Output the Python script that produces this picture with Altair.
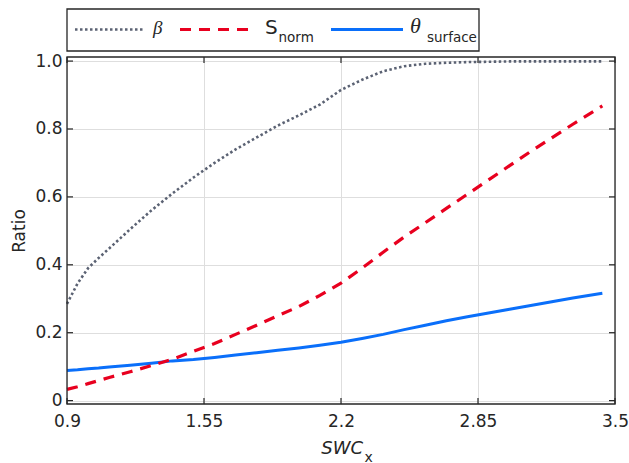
import altair as alt
import pandas as pd

# SWC_x sample positions and the three ratio curves
swc = [0.9, 0.95, 1.0, 1.05, 1.1, 1.2, 1.3, 1.4, 1.5, 1.6, 1.7, 1.8, 1.9, 2.0,
       2.1, 2.2, 2.3, 2.4, 2.5, 2.6, 2.7, 2.8, 2.9, 3.0, 3.1, 3.2, 3.3, 3.44]
beta = [0.285, 0.345, 0.39, 0.42, 0.448, 0.505, 0.56, 0.61, 0.657, 0.70, 0.74,
        0.775, 0.81, 0.84, 0.872, 0.915, 0.945, 0.97, 0.985, 0.992, 0.995,
        0.997, 0.998, 0.999, 0.999, 0.999, 0.999, 0.999]
s_norm = [0.033, 0.041, 0.05, 0.059, 0.068, 0.085, 0.103, 0.122, 0.145, 0.168,
          0.195, 0.222, 0.25, 0.277, 0.31, 0.346, 0.39, 0.437, 0.482, 0.524,
          0.566, 0.608, 0.65, 0.692, 0.734, 0.774, 0.814, 0.868]
theta_surface = [0.089, 0.091, 0.094, 0.096, 0.099, 0.104, 0.11, 0.117, 0.121,
                 0.127, 0.134, 0.141, 0.148, 0.155, 0.163, 0.172, 0.183, 0.195,
                 0.209, 0.222, 0.235, 0.247, 0.258, 0.269, 0.28, 0.291, 0.302,
                 0.316]

x_ticks = [0.9, 1.55, 2.2, 2.85, 3.5]
y_ticks = [0, 0.2, 0.4, 0.6, 0.8, 1.0]

W, H = 548, 347
FONT = "DejaVu Sans"
INK = "#262626"
GRAY, RED, BLUE = "#5b6273", "#e8001f", "#0a6ffa"

xs = alt.Scale(domain=[0.9, 3.5], nice=False, zero=False)
ys = alt.Scale(domain=[-0.01, 1.012], nice=False, zero=False)

df_beta = pd.DataFrame({"swc": swc, "ratio": beta})
df_s = pd.DataFrame({"swc": swc, "ratio": s_norm})
df_t = pd.DataFrame({"swc": swc, "ratio": theta_surface})
one = pd.DataFrame({"k": [0]})

x_axis = alt.Axis(values=x_ticks, grid=True, gridColor="#dedede", ticks=False,
                  domain=False, labelFont=FONT, labelFontSize=17,
                  labelColor=INK, labelPadding=9, labelFlush=False,
                  labelOverlap=False, labelExpr="'' + datum.value", title=None)
y_axis = alt.Axis(values=y_ticks, grid=True, gridColor="#dedede", ticks=False,
                  domain=False, labelFont=FONT, labelFontSize=17,
                  labelColor=INK, labelPadding=5, labelOverlap=False,
                  labelExpr="datum.value == 0 ? '0' : format(datum.value, '.1f')",
                  title="Ratio", titleFont=FONT, titleFontSize=17,
                  titleFontWeight="normal", titleColor=INK,
                  titleX=-39, titleY=H / 2)


def curve(df, color, width, dash=None):
    kw = dict(color=color, strokeWidth=width, strokeCap="butt")
    if dash:
        kw["strokeDash"] = dash
    return alt.Chart(df).mark_line(**kw).encode(
        x=alt.X("swc:Q", scale=xs, axis=x_axis),
        y=alt.Y("ratio:Q", scale=ys, axis=y_axis),
    )


beta_line = curve(df_beta, GRAY, 2.6, [2.5, 2.5])
theta_line = curve(df_t, BLUE, 3)
s_line = curve(df_s, RED, 3.2, [11, 8])

# inward tick marks on all four sides of the box
xt = pd.DataFrame({"v": x_ticks})
yt = pd.DataFrame({"v": y_ticks})
tick_style = dict(color=INK, strokeWidth=1.2)
ticks_bottom = alt.Chart(xt).mark_rule(**tick_style).encode(
    x=alt.X("v:Q", scale=xs), y=alt.value(H), y2=alt.value(H - 6))
ticks_top = alt.Chart(xt).mark_rule(**tick_style).encode(
    x=alt.X("v:Q", scale=xs), y=alt.value(0), y2=alt.value(6))
ticks_left = alt.Chart(yt).mark_rule(**tick_style).encode(
    y=alt.Y("v:Q", scale=ys), x=alt.value(0), x2=alt.value(6))
ticks_right = alt.Chart(yt).mark_rule(**tick_style).encode(
    y=alt.Y("v:Q", scale=ys), x=alt.value(W), x2=alt.value(W - 6))

frame = alt.Chart(one).mark_rect(fillOpacity=0, stroke=INK, strokeWidth=1.3).encode(
    x=alt.value(0), x2=alt.value(W), y=alt.value(0), y2=alt.value(H))


def label(txt, x, y, size, style="normal", font=FONT, align="left"):
    return alt.Chart(one).mark_text(
        text=txt, font=font, fontSize=size, fontStyle=style, color=INK,
        align=align, baseline="alphabetic").encode(x=alt.value(x), y=alt.value(y))


# x-axis title with subscript
x_title = label("SWC", 296, 396.5, 18, "italic", align="right") + \
    label("x", 297.5, 404.5, 14)

# legend box above the plot
leg_box = alt.Chart(one).mark_rect(fill="white", stroke=INK, strokeWidth=1.3).encode(
    x=alt.value(0), x2=alt.value(412), y=alt.value(-48), y2=alt.value(-6))
leg_beta = alt.Chart(one).mark_rule(color=GRAY, strokeWidth=2.6,
                                    strokeDash=[2.5, 2.5], strokeCap="butt").encode(
    x=alt.value(8), x2=alt.value(78), y=alt.value(-27.5))
leg_s = alt.Chart(one).mark_rule(color=RED, strokeWidth=3.2,
                                 strokeDash=[11, 8], strokeCap="butt").encode(
    x=alt.value(113), x2=alt.value(188), y=alt.value(-27.5))
leg_t = alt.Chart(one).mark_rule(color=BLUE, strokeWidth=3, strokeCap="butt").encode(
    x=alt.value(264), x2=alt.value(336), y=alt.value(-27.5))
leg_text = (
    label("β", 86, -23.5, 19, "italic", font="Liberation Serif")
    + label("S", 198, -23.5, 20)
    + label("norm", 211.5, -15, 13.5)
    + label("θ", 343, -24, 22, "italic", font="Liberation Serif")
    + label("surface", 360, -15, 13.5)
)

chart = alt.layer(
    beta_line, theta_line, s_line,
    ticks_bottom, ticks_top, ticks_left, ticks_right, frame,
    x_title, leg_box, leg_beta, leg_s, leg_t, leg_text,
).properties(
    width=W, height=H,
    padding={"left": 67, "top": 57, "right": 14, "bottom": 59},
    autosize=alt.AutoSizeParams(type="none"),
    background="white",
).configure_view(stroke=None)

chart.save("out.html", embed_options={"renderer": "svg", "actions": False})
